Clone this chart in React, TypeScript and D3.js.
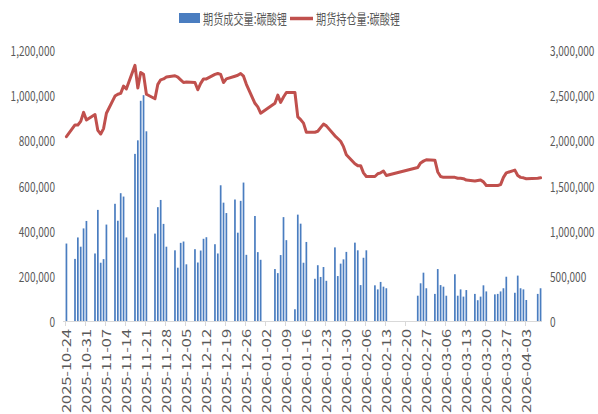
import React from 'react';
import * as d3 from 'd3';

// trading days (no weekends / holidays)
const tradeDates = [
    '2025-10-24',
    '2025-10-27', '2025-10-28', '2025-10-29', '2025-10-30', '2025-10-31',
    '2025-11-03', '2025-11-04', '2025-11-05', '2025-11-06', '2025-11-07',
    '2025-11-10', '2025-11-11', '2025-11-12', '2025-11-13', '2025-11-14',
    '2025-11-17', '2025-11-18', '2025-11-19', '2025-11-20', '2025-11-21',
    '2025-11-24', '2025-11-25', '2025-11-26', '2025-11-27', '2025-11-28',
    '2025-12-01', '2025-12-02', '2025-12-03', '2025-12-04', '2025-12-05',
    '2025-12-08', '2025-12-09', '2025-12-10', '2025-12-11', '2025-12-12',
    '2025-12-15', '2025-12-16', '2025-12-17', '2025-12-18', '2025-12-19',
    '2025-12-22', '2025-12-23', '2025-12-24', '2025-12-25', '2025-12-26',
    '2025-12-29', '2025-12-30', '2025-12-31',
    '2026-01-05', '2026-01-06', '2026-01-07', '2026-01-08', '2026-01-09',
    '2026-01-12', '2026-01-13', '2026-01-14', '2026-01-15', '2026-01-16',
    '2026-01-19', '2026-01-20', '2026-01-21', '2026-01-22', '2026-01-23',
    '2026-01-26', '2026-01-27', '2026-01-28', '2026-01-29', '2026-01-30',
    '2026-02-02', '2026-02-03', '2026-02-04', '2026-02-05', '2026-02-06',
    '2026-02-09', '2026-02-10', '2026-02-11', '2026-02-12', '2026-02-13',
    '2026-02-24', '2026-02-25', '2026-02-26', '2026-02-27',
    '2026-03-02', '2026-03-03', '2026-03-04', '2026-03-05', '2026-03-06',
    '2026-03-09', '2026-03-10', '2026-03-11', '2026-03-12', '2026-03-13',
    '2026-03-16', '2026-03-17', '2026-03-18', '2026-03-19', '2026-03-20',
    '2026-03-23', '2026-03-24', '2026-03-25', '2026-03-26', '2026-03-27',
    '2026-03-30', '2026-03-31', '2026-04-01', '2026-04-02', '2026-04-03',
    '2026-04-07', '2026-04-08',
];

// 期货成交量:碳酸锂 (left axis)
const volume = [
    343000,
    275000, 370000, 329000, 410000, 443000,
    299000, 492000, 258000, 274000, 427000,
    519000, 444000, 566000, 551000, 370000,
    740000, 800000, 975000, 1000000, 840000,
    387000, 504000, 536000, 430000, 329000,
    313000, 236000, 346000, 352000, 251000,
    318000, 259000, 312000, 364000, 371000,
    340000, 299000, 601000, 524000, 478000,
    538000, 391000, 532000, 613000, 293000,
    465000, 305000, 271000,
    230000, 212000, 292000, 460000, 358000,
    52000, 471000, 431000, 258000, 350000,
    187000, 247000, 195000, 239000, 178000,
    326000, 199000, 254000, 273000, 306000,
    347000, 313000, 159000, 280000, 313000,
    158000, 140000, 173000, 152000, 145000,
    112000, 167000, 214000, 145000,
    120000, 230000, 159000, 152000, 112000,
    207000, 112000, 140000, 108000, 137000,
    120000, 92000, 108000, 158000, 131000,
    118000, 120000, 131000, 145000, 196000,
    125000, 201000, 145000, 140000, 93000,
    120000, 145000,
];

// 期货持仓量:碳酸锂 (right axis)
const openInterest = [
    2040000,
    2170000, 2170000, 2210000, 2310000, 2225000,
    2285000, 2110000, 2070000, 2130000, 2300000,
    2490000, 2510000, 2520000, 2600000, 2570000,
    2830000, 2580000, 2750000, 2730000, 2510000,
    2460000, 2620000, 2670000, 2680000, 2700000,
    2715000, 2700000, 2670000, 2640000, 2645000,
    2640000, 2560000, 2630000, 2680000, 2680000,
    2730000, 2740000, 2730000, 2640000, 2680000,
    2710000, 2720000, 2740000, 2710000, 2620000,
    2410000, 2370000, 2300000,
    2410000, 2500000, 2420000, 2480000, 2530000,
    2530000, 2260000, 2230000, 2190000, 2090000,
    2090000, 2100000, 2140000, 2180000, 2160000,
    2050000, 2020000, 1990000, 1930000, 1840000,
    1740000, 1720000, 1720000, 1640000, 1600000,
    1600000, 1630000, 1640000, 1660000, 1610000,
    1700000, 1750000, 1770000, 1785000,
    1780000, 1650000, 1600000, 1590000, 1590000,
    1590000, 1580000, 1580000, 1575000, 1560000,
    1550000, 1555000, 1560000, 1540000, 1500000,
    1500000, 1500000, 1510000, 1590000, 1640000,
    1670000, 1610000, 1590000, 1585000, 1575000,
    1580000, 1585000,
];

const xTickLabels = [
    '2025-10-24', '2025-10-31', '2025-11-07', '2025-11-14', '2025-11-21', '2025-11-28',
    '2025-12-05', '2025-12-12', '2025-12-19', '2025-12-26', '2026-01-02', '2026-01-09',
    '2026-01-16', '2026-01-23', '2026-01-30', '2026-02-06', '2026-02-13', '2026-02-20',
    '2026-02-27', '2026-03-06', '2026-03-13', '2026-03-20', '2026-03-27', '2026-04-03',
];
const leftTicks = [0, 200000, 400000, 600000, 800000, 1000000, 1200000];
const rightTicks = [0, 500000, 1000000, 1500000, 2000000, 2500000, 3000000];

const seriesNames = ['期货成交量:碳酸锂', '期货持仓量:碳酸锂'];

const W = 598;
const H = 414;
const plotLeft = 65;
const plotRight = 542;
const plotTop = 50;
const plotBottom = 321;

const barColor = '#4a7dc0';
const lineColor = '#c0504d';
const labelColor = '#595959';
const font = '"Noto Sans CJK SC", "Noto Sans", sans-serif';

const parse = d3.utcParse('%Y-%m-%d');
const fmt = d3.format(',');

// labels in the picture are horizontally squeezed
const squeeze = 0.8;
const numWidth = (s: string) => s.replace(/,/g, '').length * 5.6 + (s.split(',').length - 1) * 2.6;

const NumLabel: React.FC<{ x: number, y: number, s: string, anchor: 'start' | 'end' }> = ({x, y, s, anchor}) => (
    <text transform={`translate(${x},${y}) scale(${squeeze},1)`} textAnchor={anchor}
          dominantBaseline="central" fontSize={13} fill={labelColor}
          textLength={numWidth(s) / squeeze} lengthAdjust="spacingAndGlyphs">{s}</text>
);

const App: React.FC = () => {
    const x = d3.scaleUtc()
        .domain([parse('2025-10-24')!, parse('2026-04-09')!])
        .range([plotLeft, plotRight]);
    const dayW = x(parse('2025-10-25')!) - x(parse('2025-10-24')!);
    // bars/points sit in the middle of their day slot
    const cx = (s: string) => x(parse(s)!) + dayW / 2;

    const yL = d3.scaleLinear().domain([0, 1200000]).range([plotBottom, plotTop]);
    const yR = d3.scaleLinear().domain([0, 3000000]).range([plotBottom, plotTop]);

    const linePath = d3.line<number>()
        .x((_, i) => cx(tradeDates[i]))
        .y(v => yR(v))(openInterest)!;

    const barW = 1.7;

    return (
        <svg width={W} height={H} style={{position: 'absolute', left: 0, top: 0, background: '#fff'}}
             fontFamily={font}>
            {/* legend */}
            <g>
                <rect x={179} y={13} width={21} height={10} fill={barColor}/>
                <text transform={`translate(203,24) scale(0.72,1)`} fontSize={14} fill={labelColor}
                      textLength={84 / 0.72} lengthAdjust="spacingAndGlyphs">{seriesNames[0]}</text>
                <line x1={290} x2={313} y1={18.5} y2={18.5} stroke={lineColor} strokeWidth={3.5}/>
                <text transform={`translate(316,24) scale(0.72,1)`} fontSize={14} fill={labelColor}
                      textLength={84 / 0.72} lengthAdjust="spacingAndGlyphs">{seriesNames[1]}</text>
            </g>

            {/* bars */}
            <g>
                {volume.map((v, i) => (
                    <rect key={i}
                          x={cx(tradeDates[i]) - barW / 2}
                          y={yL(v)}
                          width={barW}
                          height={yL(0) - yL(v)}
                          fill={barColor}/>
                ))}
            </g>

            {/* x axis */}
            <g>
                <line x1={plotLeft - 2} x2={plotRight} y1={plotBottom + 0.5} y2={plotBottom + 0.5}
                      stroke="#d9d9d9" strokeWidth={1}/>
                {xTickLabels.map(t => {
                    const tx = Math.round(x(parse(t)!)) + 0.5;
                    return (
                        <g key={t}>
                            <line x1={tx} x2={tx} y1={plotBottom} y2={plotBottom + 5} stroke="#d9d9d9"/>
                            <text transform={`translate(${tx},${plotBottom + 8}) rotate(-90)`}
                                  textAnchor="end" dominantBaseline="central" fontSize={12}
                                  fill={labelColor} textLength={84} lengthAdjust="spacingAndGlyphs">{t}</text>
                        </g>
                    );
                })}
            </g>

            {/* line */}
            <path d={linePath} fill="none" stroke={lineColor} strokeWidth={3}
                  strokeLinejoin="round" strokeLinecap="round"/>

            {/* left axis */}
            <g>
                {leftTicks.map(t => <NumLabel key={t} x={55} y={yL(t)} s={fmt(t)} anchor="end"/>)}
            </g>

            {/* right axis */}
            <g>
                {rightTicks.map(t => <NumLabel key={t} x={550} y={yR(t)} s={fmt(t)} anchor="start"/>)}
            </g>
        </svg>
    );
};

export default App;
